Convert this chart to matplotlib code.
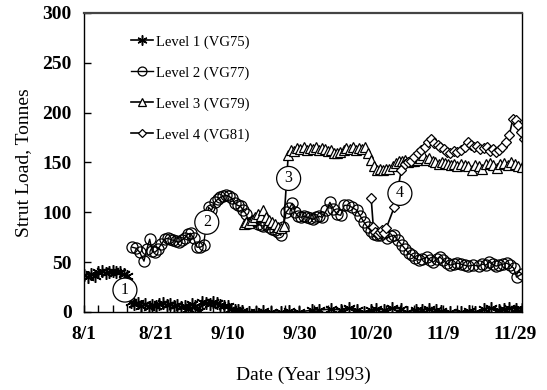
import matplotlib
matplotlib.use("Agg")
import matplotlib.pyplot as plt
from matplotlib.ticker import MultipleLocator, FixedLocator, FixedFormatter

plt.rcParams["font.family"] = ["Liberation Serif", "DejaVu Serif"]

# days counted from 8/1/1993
lvl1_day = [0, 1, 2, 3, 4, 5, 6, 7, 8, 9, 10, 11, 12, 13, 14, 15, 16, 17, 18, 19,
            20, 21, 22, 23, 24, 25, 26, 27, 28, 29, 30, 31, 32, 33, 34, 35, 36, 37,
            38, 39, 40, 41, 42, 43, 44, 46, 48, 50, 52, 55, 57, 60, 63.6, 65.6,
            68.9, 71.7, 73.9, 76.1, 78, 80, 81.4, 83.6, 85.8, 88.3, 90, 92.5, 94.2,
            96.1, 98, 99.4, 102, 105, 107.2, 109, 111.4, 113.3, 115.6, 116.9,
            118.3, 120.3, 121.9]
lvl1_val = [37, 35, 38, 36, 40, 41, 39, 40, 41, 40, 40, 38, 36, 10, 8, 9, 6, 8, 5, 7,
            6, 8, 9, 7, 8, 6, 7, 5, 6, 3, 8, 6, 1, 10, 9, 8, 10, 9,
            7, 6, 6, 3, 2, 2, 1, 0, 0, 1, 0, 0, 1, 0, 2, 2,
            3, 2, 4, 2, 0, 2, 3, 2, 4, 3, 0, 2, 2,
            3, 2, 1, 0, 0, 1, 0, 3, 4, 2, 3,
            4, 3, 3]

lvl2_day = [13.4, 14.5, 15.5, 16.7, 17.5, 18.3, 19, 19.8, 20.6, 21.5, 22.5, 23.3,
            24, 24.8, 25.6, 26.4, 27.2, 28, 28.9, 29.7, 30.5, 31.5, 32.4, 33.3,
            34.7, 35.5, 36.4, 37.2, 38, 38.8, 39.6, 40.4, 41.2, 42, 42.8, 43.6,
            44.4, 45.2, 46, 46.8, 47.6, 48.4, 49.2, 50, 50.8, 51.6, 52.4, 53.2,
            54, 54.8, 55.5, 56.3, 57.2, 58, 58.8, 59.6, 60.5, 61.3, 62.1, 63,
            63.9, 64.7, 65.5, 66.4, 67.5, 68.5, 69.5, 70.5, 71.5, 72.5, 73.6,
            74.7, 76, 77, 78, 79, 80, 80.8, 81.6, 82.4, 83.2, 84.4, 85.4, 86.4,
            87.4, 88.6, 89.5, 90.4, 91.3, 92.3, 93.3, 94.2, 95.5, 96.4, 97.3,
            98.2, 99.2, 100.1, 101, 102, 103, 104, 105, 106, 107, 108.5, 110,
            111, 112, 112.8, 113.8, 114.8, 115.7, 116.7, 117.8, 118.7, 119.7,
            120.5, 121.9]
lvl2_val = [65, 64, 60, 51, 63, 73, 61, 60, 63, 68, 73, 74,
            73, 72, 71, 70, 72, 74, 78, 79, 74, 65, 65, 67,
            105, 102, 110, 113, 115, 116, 117, 116, 114, 109, 107, 106,
            102, 98, 89, 90, 92, 88, 87, 86, 88, 85, 83, 82,
            80, 77, 85, 100, 104, 109, 100, 96, 95, 96, 95, 94,
            93, 95, 96, 95, 102, 110, 103, 98, 97, 107, 107,
            105, 102, 96, 90, 85, 81, 78, 77, 77, 79, 74, 76, 77,
            72, 67, 63, 59, 57, 54, 52, 53, 55, 52, 50,
            53, 55, 52, 49, 47, 48, 49, 48, 47, 46, 47, 46,
            48, 47, 50, 48, 46, 47, 48, 49, 47, 44,
            35, 38]

lvl3_day = [44.5, 45.2, 46, 46.8, 47.6, 48.4, 49.2, 50, 50.8, 51.6, 52.4, 53.2, 54,
            54.8, 55.6, 56.9, 57.7, 58.6, 59.4, 60.3, 61.2, 62, 62.9, 63.7, 64.6,
            65.4, 66.3, 67.1, 68, 68.8, 69.7, 70.5, 71.4, 72.3, 73.1, 74, 74.8,
            75.7, 76.5, 77.4, 78.3, 79.1, 80, 80.8, 81.7, 82.5, 83.4, 84.2, 85.1,
            86, 86.8, 87.7, 88.5, 89.4, 90.3, 91.1, 92, 92.8, 93.7, 94.5, 95.4,
            96.2, 97.1, 97.9, 98.8, 99.6, 100.5, 101.3, 102.2, 103, 104, 105, 106,
            107, 108, 109, 110, 111, 112, 113, 114, 115, 116, 117, 118, 119, 120,
            121, 122]
lvl3_val = [88, 90, 89, 92, 95, 98, 96, 102, 95, 92, 90, 88, 85,
            84, 86, 158, 163, 162, 165, 164, 166, 163, 165, 164, 166,
            163, 165, 164, 162, 163, 160, 160, 161, 163, 165, 164, 166,
            163, 165, 164, 166, 160, 153, 146, 142, 143, 142, 143, 143,
            146, 149, 151, 152, 153, 150, 152, 151, 153, 155, 158, 153,
            155, 151, 150, 148, 150, 149, 148, 147, 148, 146, 148, 147,
            146, 142, 147, 146, 143, 148, 149, 147, 144, 148, 149, 147, 150, 148,
            146, 145]

lvl4_day = [80, 80.6, 81.2, 81.8, 82.4, 83, 83.6, 84.2, 86.4, 88.4, 89.3, 90.2, 91,
            92, 93.1, 94, 95, 95.8, 96.8, 97.6, 98.5, 99.3, 100.2, 101, 102, 103,
            104, 105, 106, 107, 107.8, 108.6, 109.5, 110.4, 111.3, 112.2, 113,
            113.8, 114.7, 115.5, 116.5, 117.5, 118.5, 119.5, 120.3, 121, 121.8,
            122.6]
lvl4_val = [114, 85, 80, 78, 80, 82, 79, 84, 105, 142, 148, 150, 152,
            156, 160, 163, 166, 171, 174, 170, 168, 166, 164, 161, 160, 162,
            161, 163, 166, 171, 168, 166, 167, 164, 165, 166, 162,
            164, 161, 163, 166, 171, 178, 194, 193, 188, 181,
            174]

# numbered construction stages
stage_labels = ["1", "2", "3", "4"]
stage_day = [11.4, 34.2, 57.0, 88.0]
stage_val = [22, 90, 134, 119]

tick_days = [0, 20, 40, 60, 80, 100, 120]
tick_labels = ["8/1", "8/21", "9/10", "9/30", "10/20", "11/9", "11/29"]

fig = plt.figure(figsize=(5.47, 3.90), dpi=100)
ax = fig.add_axes([0.1536, 0.2, 0.8006, 0.7667])

ax.plot(lvl1_day, lvl1_val, color="black", lw=1.2, marker=(6, 2, 0), ms=9,
        mew=1.1, label="Level 1 (VG75)")
ax.plot(lvl2_day, lvl2_val, color="black", lw=1.0, marker="o", ms=8,
        mfc="none", mew=0.9, label="Level 2 (VG77)")
ax.plot(lvl3_day, lvl3_val, color="black", lw=1.2, marker="^", ms=7,
        mfc="white", mew=0.9, label="Level 3 (VG79)")
ax.plot(lvl4_day, lvl4_val, color="black", lw=1.2, marker="D", ms=5.5,
        mfc="white", mew=0.9, label="Level 4 (VG81)")

for lab, d, v in zip(stage_labels, stage_day, stage_val):
    ax.text(d, v, lab, ha="center", va="center", fontsize=11.5, zorder=5,
            bbox=dict(boxstyle="circle,pad=0.25", fc="white", ec="black", lw=0.9))

ax.set_xlim(0, 122)
ax.set_ylim(0, 300)
ax.xaxis.set_major_locator(FixedLocator(tick_days))
ax.xaxis.set_major_formatter(FixedFormatter(tick_labels))
ax.xaxis.set_minor_locator(MultipleLocator(4))
ax.yaxis.set_major_locator(MultipleLocator(50))

ax.tick_params(axis="both", which="both", direction="in", length=5, width=1,
               top=False, right=False)
ax.tick_params(axis="x", which="major", pad=10)
ax.tick_params(axis="y", which="major", pad=9)
for lab in ax.get_xticklabels() + ax.get_yticklabels():
    lab.set_fontsize(14)
    lab.set_fontweight("bold")

ax.spines["top"].set_color("#444444")
ax.spines["top"].set_linewidth(1.6)
for s in ["left", "bottom", "right"]:
    ax.spines[s].set_linewidth(1.0)

ax.set_ylabel("Strut Load, Tonnes", fontsize=14, labelpad=7)
ax.set_xlabel("Date (Year 1993)", fontsize=14, labelpad=17)

ax.legend(loc="upper left", bbox_to_anchor=(0.095, 0.945), frameon=False,
          fontsize=10.5, handlelength=1.5, handletextpad=0.15, labelspacing=1.2,
          borderaxespad=0.0, markerscale=0.8)

fig.savefig("out.png", dpi=100)
